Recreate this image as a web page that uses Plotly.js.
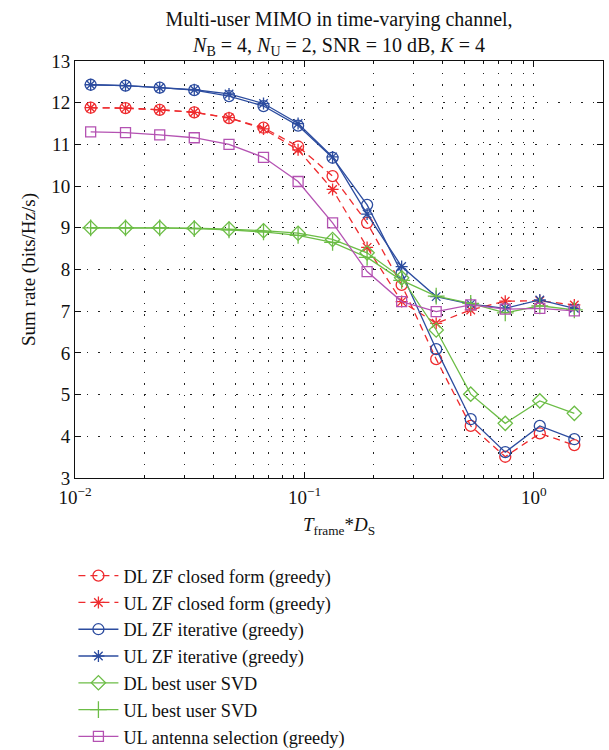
<!DOCTYPE html>
<html>
<head>
<meta charset="utf-8">
<script src="https://cdn.plot.ly/plotly-3.0.1.min.js"></script>
<style>
  html, body { margin: 0; padding: 0; background: #fff; }
  #chart { width: 609px; height: 750px; }
</style>
</head>
<body>
<div id="chart"></div>
<script>
// Normalised frame duration T_frame * D_S
var tFrameDs = [0.0117, 0.0166, 0.0234, 0.0331, 0.0469, 0.0663, 0.0938, 0.1326,
                0.1875, 0.2652, 0.375, 0.5303, 0.75, 1.0607, 1.5];

// Sum rate (bits/Hz/s) per scheme
var dlClosedForm = [11.88, 11.87, 11.83, 11.77, 11.63, 11.40, 10.95, 10.24, 9.12, 7.63, 5.85, 4.25, 3.51, 4.07, 3.79];
var ulClosedForm = [11.88, 11.87, 11.83, 11.77, 11.64, 11.37, 10.87, 9.92, 8.53, 7.23, 6.71, 7.03, 7.24, 7.25, 7.15];
var dlIterative  = [12.43, 12.41, 12.36, 12.30, 12.16, 11.92, 11.45, 10.68, 9.55, 7.92, 6.09, 4.41, 3.62, 4.25, 3.93];
var ulIterative  = [12.43, 12.41, 12.36, 12.31, 12.21, 11.98, 11.50, 10.70, 9.33, 8.07, 7.35, 7.17, 7.07, 7.27, 7.07];
var dlBestSvd    = [9.00, 9.00, 9.00, 8.99, 8.97, 8.93, 8.87, 8.72, 8.40, 7.80, 6.55, 5.01, 4.31, 4.85, 4.55];
var ulBestSvd    = [9.00, 9.00, 9.00, 8.98, 8.95, 8.90, 8.82, 8.65, 8.29, 7.74, 7.36, 7.19, 6.96, 7.13, 7.03];
var ulAntennaSel = [11.30, 11.28, 11.23, 11.16, 11.00, 10.69, 10.11, 9.12, 7.95, 7.23, 6.99, 7.15, 7.05, 7.07, 7.01];

var seriesNames = [
  'DL ZF closed form (greedy)',
  'UL ZF closed form (greedy)',
  'DL ZF iterative (greedy)',
  'UL ZF iterative (greedy)',
  'DL best user SVD',
  'UL best user SVD',
  'UL antenna selection (greedy)'
];

var xTickVals = [0.01, 0.1, 1];
var xTickText = ['10<sup>\u22122</sup>', '10<sup>\u22121</sup>', '10<sup>0</sup>'];
var xMinorTickVals = [0.02, 0.03, 0.04, 0.05, 0.06, 0.07, 0.08, 0.09,
                      0.2, 0.3, 0.4, 0.5, 0.6, 0.7, 0.8, 0.9, 2];
var yTickVals = [3, 4, 5, 6, 7, 8, 9, 10, 11, 12, 13];

var RED = '#ee2b2e', BLUE = '#2c4c9f', GREEN = '#6cbd46', MAGENTA = '#b452b2';
var FONT = 'Liberation Serif, Times New Roman, serif';

function series(y, name, color, dash, symbol, size) {
  return {
    x: tFrameDs, y: y, name: name, type: 'scatter', mode: 'lines+markers',
    legendgroup: name,
    line: { color: color, width: 1.3, dash: dash },
    marker: { symbol: symbol, size: size, color: color,
              line: { color: color, width: 1.3 } }
  };
}

var traces = [
  series(dlClosedForm, seriesNames[0], RED, '7px,5px', 'circle-open', 11),
  series(ulClosedForm, seriesNames[1], RED, '7px,5px', 'asterisk-open', 10),
  series(dlIterative,  seriesNames[2], BLUE, 'solid', 'circle-open', 11),
  series(ulIterative,  seriesNames[3], BLUE, 'solid', 'asterisk-open', 10),
  series(dlBestSvd,    seriesNames[4], GREEN, 'solid', 'diamond-open', 11),
  series(ulBestSvd,    seriesNames[5], GREEN, 'solid', 'cross-thin-open', 12),
  series(ulAntennaSel, seriesNames[6], MAGENTA, 'solid', 'square-open', 10)
];

var gridDash = '1.5px,10px';

var layout = {
  width: 609, height: 750,
  paper_bgcolor: '#fff', plot_bgcolor: '#fff',
  margin: { l: 75, r: 6, t: 61, b: 272, autoexpand: false },
  font: { family: FONT, color: '#111', size: 17 },
  title: {
    text: 'Multi-user MIMO in time-varying channel,<br><i>N</i><sub>B</sub> = 4, <i>N</i><sub>U</sub> = 2, SNR = 10 dB, <i>K</i> = 4',
    font: { family: FONT, size: 20, color: '#111' },
    xref: 'paper', x: 0.5, xanchor: 'center',
    yref: 'container', y: 0.966, yanchor: 'middle'
  },
  xaxis: {
    type: 'log', range: [-2, 0.301],
    tickvals: xTickVals, ticktext: xTickText,
    ticks: 'inside', ticklen: 6, tickcolor: '#111',
    showline: true, linecolor: '#111', linewidth: 1, mirror: 'ticks',
    showgrid: true, gridcolor: '#222', gridwidth: 1, griddash: gridDash,
    minor: { tickmode: 'array', tickvals: xMinorTickVals,
             ticks: 'inside', ticklen: 3, tickcolor: '#111',
             showgrid: true, gridcolor: '#222', gridwidth: 1, griddash: gridDash },
    tickfont: { family: FONT, size: 19, color: '#111' },
    ticklabelstandoff: 2,
    zeroline: false,
    title: { text: '<i>T</i><sub>frame</sub>*<i>D</i><sub>S</sub>',
             font: { family: FONT, size: 19, color: '#111' }, standoff: 10 }
  },
  yaxis: {
    range: [3, 13], tickvals: yTickVals,
    ticks: 'inside', ticklen: 6, tickcolor: '#111',
    showline: true, linecolor: '#111', linewidth: 1, mirror: 'ticks',
    showgrid: true, gridcolor: '#222', gridwidth: 1, griddash: gridDash,
    tickfont: { family: FONT, size: 19, color: '#111' },
    zeroline: false,
    title: { text: 'Sum rate (bits/Hz/s)',
             font: { family: FONT, size: 19, color: '#111' }, standoff: 10 }
  },
  showlegend: true,
  legend: {
    orientation: 'v',
    x: -0.003, xanchor: 'left',
    yref: 'container', y: 0.257, yanchor: 'top',
    font: { family: FONT, size: 18.3, color: '#111' },
    bgcolor: 'rgba(0,0,0,0)', borderwidth: 0,
    tracegroupgap: 0, itemwidth: 40
  }
};

Plotly.newPlot('chart', traces, layout, { displayModeBar: false, staticPlot: true });
</script>
</body>
</html>
